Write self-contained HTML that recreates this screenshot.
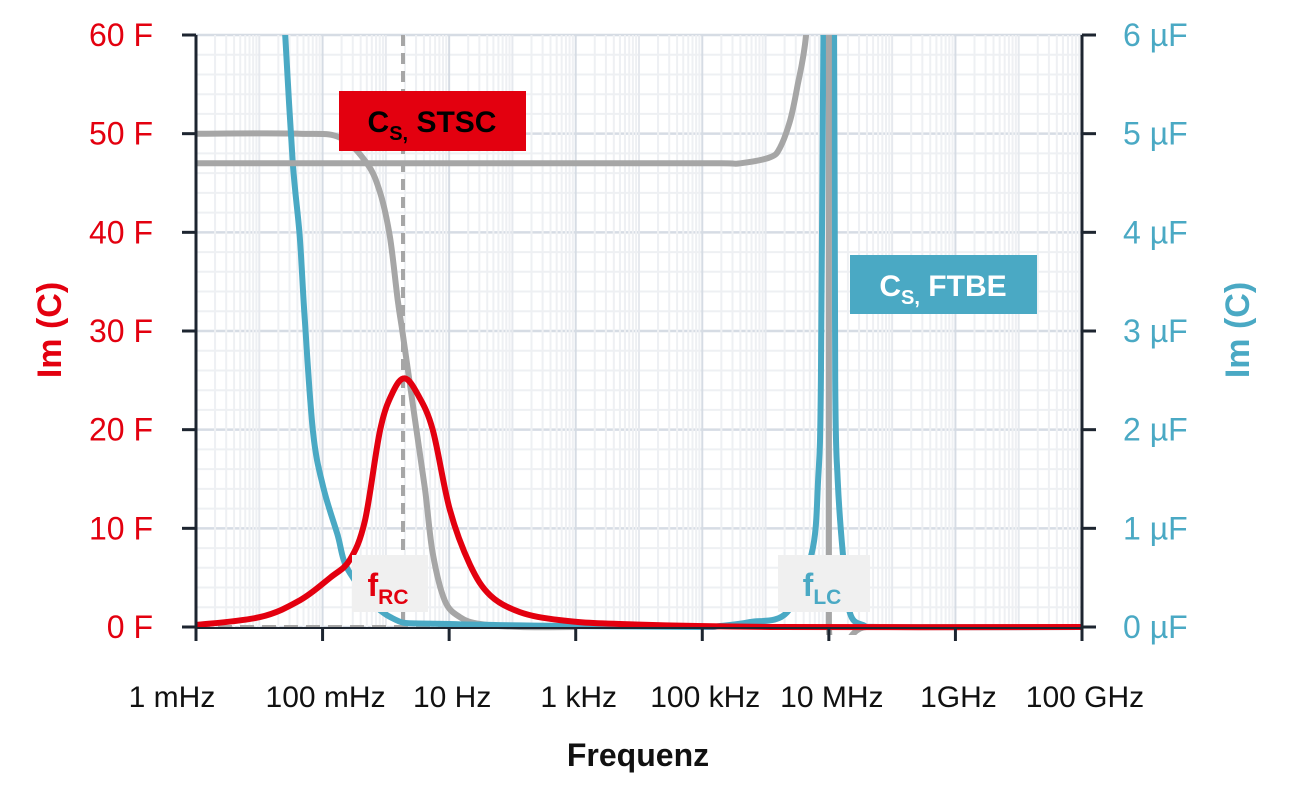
<!DOCTYPE html>
<html><head><meta charset="utf-8"><style>
html,body{margin:0;padding:0;background:#fff;}
svg{display:block;font-family:"Liberation Sans",sans-serif;}
</style></head><body>
<svg id="chart" width="1308" height="792" viewBox="0 0 1308 792" style="position:absolute;left:0;top:0">
<defs><clipPath id="plotclip"><rect x="196" y="35" width="886" height="600"/></clipPath></defs>
<g id="grid"></g>
<g id="series" clip-path="url(#plotclip)"></g>
<g id="axes"></g>
</svg>
<script>
// x ticks (log10 Hz) and labels
const xTickLogs = [-3,-1,1,3,5,7,9,11];
const xTickLabels = ["1 mHz","100 mHz","10 Hz","1 kHz","100 kHz","10 MHz","1GHz","100 GHz"];
const yLeftTicks = [0,10,20,30,40,50,60];
const yLeftLabels = ["0 F","10 F","20 F","30 F","40 F","50 F","60 F"];
const yRightTicks = [0,1,2,3,4,5,6];
const yRightLabels = ["0 µF","1 µF","2 µF","3 µF","4 µF","5 µF","6 µF"];
// Im(C) STSC (F, left axis)
const redLogF = [-3,-1.99,-1.36,-0.88,-0.57,-0.33,-0.09,0.11,0.30,0.51,0.74,1.01,1.33,1.65,2.12,2.75,3.70,6.23,11];
const redVal  = [0.2,1,2.7,5,6.8,10.8,20,23.8,25.2,23.5,20,11.9,6.3,3.2,1.5,0.7,0.3,0,0];
// Re(C) STSC (F, left axis)
const grayALogF = [-3,-1.36,-0.725,-0.30,-0.09,0.065,0.19,0.27,0.46,0.62,0.74,0.93,1.17,1.49,2.12,3.0];
const grayAVal  = [50,50,49.6,47,44,39.5,33,29.6,21,13.9,7.5,2.7,1,0.3,0,0];
// Re(C) FTBE (µF, right axis)
const grayBLogF = [-3,5.3,5.6,6.07,6.23,6.39,6.5,6.64,6.73,6.76];
const grayBVal  = [4.7,4.7,4.7,4.76,4.86,5.14,5.47,6.0,7.0,8.0];
const grayCLogF = [7.0,7.0,7.6,11];
const grayCVal  = [8,0,0,0];
// Im(C) FTBE (µF, right axis)
const blueLogF = [-1.61,-1.59,-1.47,-1.36,-1.28,-1.15,-0.99,-0.77,-0.57,0.07,1.01,4.96,5.28,5.75,6.34,6.73,6.83,6.875,6.92,6.97,7.03,7.08,7.10,7.14,7.22,7.33,7.54,7.81,11];
const blueVal  = [6.3,6.0,4.7,3.95,3.1,1.97,1.42,0.95,0.55,0.1,0.03,0,0.01,0.05,0.15,0.75,1.49,2.5,6.5,8,8,6.5,2.5,1.49,0.75,0.15,0.02,0,0];

const X0=196,X1=1082,Y0=627,Y1=35;
const xs = l => X0 + (l+3)/14*(X1-X0);
const yL = v => Y0 - v/60*(Y0-Y1);
const yR = v => Y0 - v/6*(Y0-Y1);
const NS="http://www.w3.org/2000/svg";
function mk(tag, parent, attrs){const e=document.createElementNS(NS,tag);for(const k in attrs)e.setAttribute(k,attrs[k]);parent.appendChild(e);return e;}
const grid=document.getElementById('grid'), series=document.getElementById('series'), axes=document.getElementById('axes');

for(let v=0; v<=60; v+=2){
  const major = v%10===0;
  const l=mk('line',grid,{x1:X0,x2:X1,y1:yL(v),y2:yL(v),stroke:major?'#d6dce4':'#eef0f3','stroke-width':major?2.5:2});
  
  
}
for(let d=-3; d<11; d++){
  for(let m=2;m<=9;m++){
    const x=xs(d+Math.log10(m));
    const l=mk('line',grid,{x1:x,x2:x,y1:Y1,y2:Y0,stroke:'#eef0f3','stroke-width':2});
    
    
  }
  const x=xs(d);
  const l=mk('line',grid,{x1:x,x2:x,y1:Y1,y2:Y0,stroke:(d+3)%2===0?'#d6dce4':'#e6e9ee','stroke-width':2});
  
  
}

function path(lx, vals, yfn, color, name){
  const P=lx.map((l,i)=>[xs(l),yfn(vals[i])]);
  let d='M'+P[0][0].toFixed(1)+','+P[0][1].toFixed(1);
  for(let i=0;i<P.length-1;i++){
    const p0=P[Math.max(0,i-1)],p1=P[i],p2=P[i+1],p3=P[Math.min(P.length-1,i+2)];
    const t=1/6;
    let c1=[p1[0]+(p2[0]-p0[0])*t,p1[1]+(p2[1]-p0[1])*t];
    let c2=[p2[0]-(p3[0]-p1[0])*t,p2[1]-(p3[1]-p1[1])*t];
    // keep x monotone within segment
    const lo=Math.min(p1[0],p2[0]),hi=Math.max(p1[0],p2[0]);
    c1[0]=Math.min(hi,Math.max(lo,c1[0]));c2[0]=Math.min(hi,Math.max(lo,c2[0]));
    d+='C'+c1[0].toFixed(1)+','+c1[1].toFixed(1)+' '+c2[0].toFixed(1)+','+c2[1].toFixed(1)+' '+p2[0].toFixed(1)+','+p2[1].toFixed(1);
  }
  const p=mk('path',series,{d:d,fill:'none',stroke:color,'stroke-width':6,'stroke-linejoin':'round'});
  
  
  return p;
}
const bl=mk('line',series,{x1:X0,x2:X1,y1:Y0,y2:Y0,stroke:'#a6a6a6','stroke-width':4,'stroke-dasharray':'14,8'});


const fr=mk('line',series,{x1:403,x2:403,y1:Y1,y2:Y0,stroke:'#a6a6a6','stroke-width':4,'stroke-dasharray':'11,7'});



path(grayALogF,grayAVal,yL,'#a6a6a6','re-c-stsc-line');
path(blueLogF,blueVal,yR,'#4aa9c4','im-c-ftbe-line');
path(grayBLogF,grayBVal,yR,'#a6a6a6','re-c-ftbe-line');
path(grayCLogF,grayCVal,yR,'#a6a6a6','re-c-ftbe-after-resonance-line');
path(redLogF,redVal,yL,'#e3000f','im-c-stsc-line');

function line(p,a,name){const l=mk('line',p,a);return l;}
line(axes,{x1:X0,x2:X0,y1:Y1,y2:Y0+1,stroke:'#1d2530','stroke-width':3},'left-axis-line');
line(axes,{x1:X1,x2:X1,y1:Y1,y2:Y0+1,stroke:'#1d2530','stroke-width':3},'right-axis-line');
line(axes,{x1:X0,x2:X1,y1:Y0+1,y2:Y0+1,stroke:'#1d2530','stroke-width':2},'x-axis-line');
yLeftTicks.forEach((v,i)=>{
  line(axes,{x1:182,x2:X0,y1:yL(v),y2:yL(v),stroke:'#1d2530','stroke-width':3},'left-tick');
  const t=mk('text',axes,{x:153,y:yL(v)+11,'text-anchor':'end','font-size':32,fill:'#e3000f'});
  t.textContent=yLeftLabels[i];
  
  
});
yRightTicks.forEach((v,i)=>{
  line(axes,{x1:X1,x2:1096,y1:yR(v),y2:yR(v),stroke:'#1d2530','stroke-width':3},'right-tick');
  const t=mk('text',axes,{x:1123,y:yR(v)+11,'text-anchor':'start','font-size':32,fill:'#4aa9c4'});
  t.textContent=yRightLabels[i];
  
  
});
xTickLogs.forEach((l,i)=>{
  const x=xs(l);
  line(axes,{x1:x,x2:x,y1:Y0,y2:641,stroke:'#1d2530','stroke-width':3},'x-tick');
  const t=mk('text',axes,{x:x-(i===0?24:-3),y:707,'text-anchor':'middle','font-size':30,fill:'#111'});
  t.textContent=xTickLabels[i];
  
  
});
</script>
<svg style="position:absolute;left:0;top:0" width="1308" height="792">
<text x="638" y="766" text-anchor="middle" font-size="32" font-weight="bold" fill="#111" font-family="Liberation Sans, sans-serif">Frequenz</text>
<text transform="translate(61,330) rotate(-90)" text-anchor="middle" font-size="34" font-weight="bold" fill="#e3000f" font-family="Liberation Sans, sans-serif">Im (C)</text>
<text transform="translate(1249,330) rotate(-90)" text-anchor="middle" font-size="34" font-weight="bold" fill="#4aa9c4" font-family="Liberation Sans, sans-serif">Im (C)</text>
<g>
<rect x="339" y="91" width="187" height="60" fill="#e3000f"/>
<text x="432" y="132" text-anchor="middle" font-size="30" font-weight="bold" fill="#000" font-family="Liberation Sans, sans-serif">C<tspan font-size="20" dy="8">S,</tspan><tspan dy="-8"> STSC</tspan></text>
</g>
<g>
<rect x="850" y="255" width="187" height="59" fill="#4aa9c4"/>
<text x="943" y="296" text-anchor="middle" font-size="30" font-weight="bold" fill="#fff" font-family="Liberation Sans, sans-serif">C<tspan font-size="20" dy="8">S,</tspan><tspan dy="-8"> FTBE</tspan></text>
</g>
<g>
<rect x="352" y="555" width="76" height="57" fill="#f0f0f0"/>
<text x="388" y="596" text-anchor="middle" font-size="32" font-weight="bold" fill="#e3000f" font-family="Liberation Sans, sans-serif">f<tspan font-size="21" dy="8">RC</tspan></text>
</g>
<g>
<rect x="778" y="555" width="92" height="57" fill="#f0f0f0"/>
<text x="822" y="596" text-anchor="middle" font-size="32" font-weight="bold" fill="#4aa9c4" font-family="Liberation Sans, sans-serif">f<tspan font-size="21" dy="8">LC</tspan></text>
</g>
</svg>
</body></html>
